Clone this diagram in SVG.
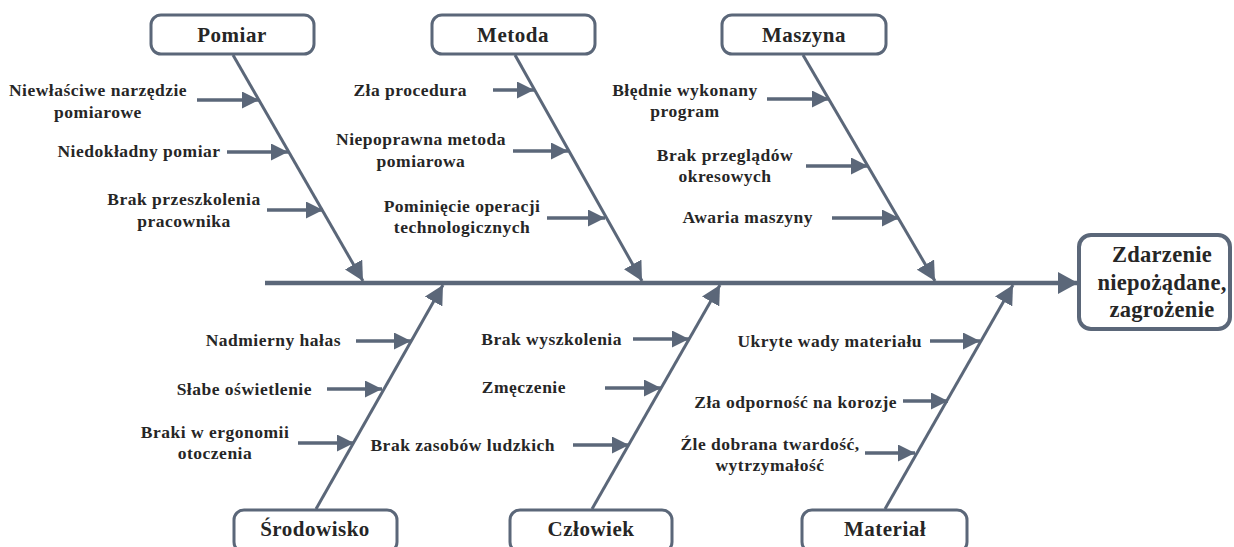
<svg xmlns="http://www.w3.org/2000/svg" width="1234" height="547" viewBox="0 0 1234 547">
  <defs>
    <marker id="bigHead" markerUnits="userSpaceOnUse" markerWidth="22" markerHeight="22" refX="20" refY="11" orient="auto">
      <path d="M0,0 L20,11 L0,22 z" fill="#5b6779"/>
    </marker>
    <marker id="boneHead" markerUnits="userSpaceOnUse" markerWidth="20" markerHeight="20" refX="19" refY="10" orient="auto">
      <path d="M0,0 L19,10 L0,20 z" fill="#5b6779"/>
    </marker>
    <marker id="subHead" markerUnits="userSpaceOnUse" markerWidth="18" markerHeight="18" refX="17" refY="8.5" orient="auto">
      <path d="M0,0 L17,8.5 L0,17 z" fill="#5b6779"/>
    </marker>
  </defs>
  <style>
    .box { fill: #ffffff; stroke: #5b6779; stroke-width: 3; }
    .effect { fill: #ffffff; stroke: #5b6779; stroke-width: 4; }
    .spine { stroke: #5b6779; stroke-width: 4.5; fill: none; marker-end: url(#bigHead); }
    .bone { stroke: #5b6779; stroke-width: 3; fill: none; marker-end: url(#boneHead); }
    .sub { stroke: #5b6779; stroke-width: 3.5; fill: none; marker-end: url(#subHead); }
    text { font-family: 'Liberation Serif', 'DejaVu Serif', 'Times New Roman', serif; font-weight: 700; fill: #262626; }
    .cat { font-size: 21px; letter-spacing: 0.5px; text-anchor: middle; }
    .head { font-size: 22.5px; letter-spacing: 0.3px; text-anchor: middle; }
    .lbl { font-size: 17.5px; letter-spacing: 0.5px; }
    .m { text-anchor: middle; }
    .e { text-anchor: end; }
  </style>

  <!-- connectors: spine, category bones and cause arrows -->
  <g id="connectors">
    <line class="spine" x1="265" y1="283" x2="1078" y2="283"/>

    <line class="bone" x1="233" y1="55" x2="363" y2="281"/>
    <line class="bone" x1="515" y1="55" x2="642" y2="281"/>
    <line class="bone" x1="803" y1="55" x2="935" y2="281"/>
    <line class="bone" x1="316" y1="509" x2="443" y2="285"/>
    <line class="bone" x1="592" y1="509" x2="720" y2="285"/>
    <line class="bone" x1="885" y1="509" x2="1013" y2="285"/>

    <line class="sub" x1="197" y1="100" x2="259" y2="100"/>
    <line class="sub" x1="227" y1="152" x2="288" y2="152"/>
    <line class="sub" x1="267" y1="210" x2="323" y2="210"/>

    <line class="sub" x1="493" y1="90" x2="534" y2="90"/>
    <line class="sub" x1="513" y1="151" x2="568" y2="151"/>
    <line class="sub" x1="547" y1="218" x2="605" y2="218"/>

    <line class="sub" x1="767" y1="99" x2="829" y2="99"/>
    <line class="sub" x1="806" y1="166" x2="868" y2="166"/>
    <line class="sub" x1="832" y1="218" x2="899" y2="218"/>

    <line class="sub" x1="356" y1="341" x2="411" y2="341"/>
    <line class="sub" x1="327" y1="389" x2="382" y2="389"/>
    <line class="sub" x1="298" y1="443" x2="354" y2="443"/>

    <line class="sub" x1="633" y1="339" x2="689" y2="339"/>
    <line class="sub" x1="605" y1="388" x2="661" y2="388"/>
    <line class="sub" x1="573" y1="445" x2="629" y2="445"/>

    <line class="sub" x1="930" y1="341" x2="980" y2="341"/>
    <line class="sub" x1="903" y1="401" x2="948" y2="401"/>
    <line class="sub" x1="865" y1="453" x2="915" y2="453"/>
  </g>

  <!-- effect -->
  <g id="effect">
    <rect class="effect" x="1079" y="235" width="151" height="94" rx="12"/>
    <text class="head" x="1162" y="262">Zdarzenie</text>
    <text class="head" x="1162" y="290">niepożądane,</text>
    <text class="head" x="1162" y="317">zagrożenie</text>
  </g>

  <!-- top categories -->
  <g id="pomiar">
    <rect class="box" x="151" y="15" width="163" height="39" rx="10"/>
    <text class="cat" x="232" y="42">Pomiar</text>
    <text class="lbl m" x="98" y="96">Niewłaściwe narzędzie</text>
    <text class="lbl m" x="98" y="118">pomiarowe</text>
    <text class="lbl m" x="139" y="157">Niedokładny pomiar</text>
    <text class="lbl m" x="184" y="205">Brak przeszkolenia</text>
    <text class="lbl m" x="184" y="227">pracownika</text>
  </g>

  <g id="metoda">
    <rect class="box" x="432" y="15" width="163" height="39" rx="10"/>
    <text class="cat" x="513" y="42">Metoda</text>
    <text class="lbl e" x="467" y="96">Zła procedura</text>
    <text class="lbl m" x="421" y="145">Niepoprawna metoda</text>
    <text class="lbl m" x="421" y="167">pomiarowa</text>
    <text class="lbl m" x="462" y="212">Pominięcie operacji</text>
    <text class="lbl m" x="462" y="233">technologicznych</text>
  </g>

  <g id="maszyna">
    <rect class="box" x="722" y="15" width="164" height="39" rx="10"/>
    <text class="cat" x="804" y="42">Maszyna</text>
    <text class="lbl m" x="685" y="96">Błędnie wykonany</text>
    <text class="lbl m" x="685" y="117">program</text>
    <text class="lbl m" x="725" y="161">Brak przeglądów</text>
    <text class="lbl m" x="725" y="182">okresowych</text>
    <text class="lbl e" x="813" y="223">Awaria maszyny</text>
  </g>

  <!-- bottom categories -->
  <g id="srodowisko">
    <rect class="box" x="234" y="510" width="163" height="42" rx="10"/>
    <text class="cat" x="315" y="536">Środowisko</text>
    <text class="lbl e" x="341" y="346">Nadmierny hałas</text>
    <text class="lbl e" x="312" y="395">Słabe oświetlenie</text>
    <text class="lbl m" x="215" y="438">Braki w ergonomii</text>
    <text class="lbl m" x="215" y="459">otoczenia</text>
  </g>

  <g id="czlowiek">
    <rect class="box" x="510" y="510" width="162" height="42" rx="10"/>
    <text class="cat" x="591" y="536">Człowiek</text>
    <text class="lbl e" x="622" y="345">Brak wyszkolenia</text>
    <text class="lbl e" x="566" y="393">Zmęczenie</text>
    <text class="lbl e" x="555" y="451">Brak zasobów ludzkich</text>
  </g>

  <g id="material">
    <rect class="box" x="802" y="510" width="165" height="42" rx="10"/>
    <text class="cat" x="885" y="536">Materiał</text>
    <text class="lbl e" x="922" y="347">Ukryte wady materiału</text>
    <text class="lbl e" x="897" y="408">Zła odporność na korozje</text>
    <text class="lbl m" x="770" y="450">Źle dobrana twardość,</text>
    <text class="lbl m" x="770" y="471">wytrzymałość</text>
  </g>
</svg>
